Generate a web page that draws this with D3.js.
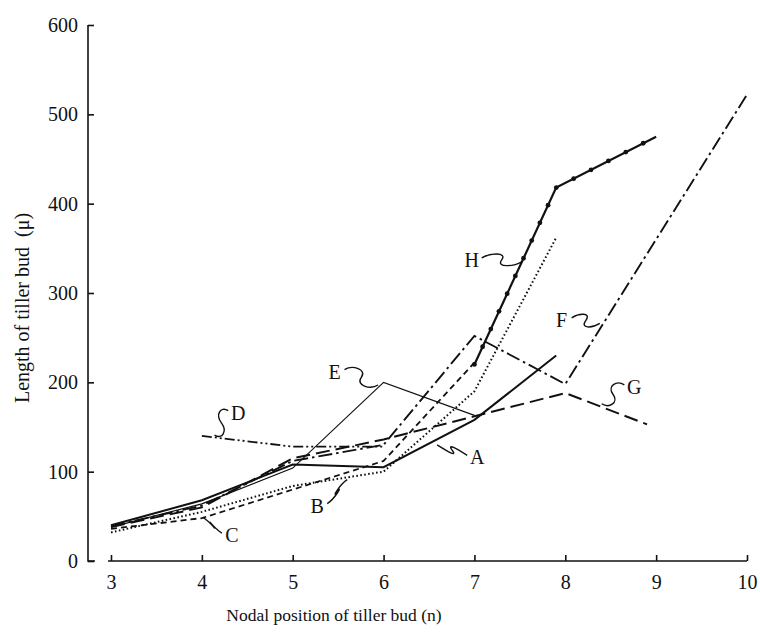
<!DOCTYPE html>
<html>
<head>
<meta charset="utf-8">
<script src="https://cdn.jsdelivr.net/npm/d3@7"></script>
<style>
  body { margin: 0; background: #fff; }
  svg text { font-family: "Liberation Serif", "DejaVu Serif", serif; fill: #111; }
</style>
</head>
<body>
<script>
// tick values
const xTicks = [3, 4, 5, 6, 7, 8, 9, 10];
const yTicks = [0, 100, 200, 300, 400, 500, 600];

// series: [nodal position, length]
const seriesA = [[3, 40], [4, 68], [5, 108], [6, 105], [7, 158], [7.9, 230]];
const seriesB = [[3, 32], [4, 55], [5, 84], [6, 100], [7, 190], [7.9, 362]];
const seriesC = [[3, 36], [4, 48], [5, 80], [6, 112], [7, 222]];
const seriesD = [[4, 140], [5, 128], [6, 128]];
const seriesE = [[3, 38], [4, 64], [5, 104], [6, 200], [7, 163]];
const seriesF = [[3, 39], [4, 62], [5, 112], [6, 130], [7, 252], [8, 198], [10, 522]];
const seriesG = [[3, 38], [4, 60], [5, 115], [6, 136], [7, 162], [8, 188], [8.9, 153]];
const seriesH = [[7, 220], [7.9, 418], [9, 475]];

// label text position and the point on the curve its squiggle touches
const labelNames = ["A", "B", "C", "D", "E", "F", "G", "H"];
const labelAt = [[7.03, 116], [5.27, 62], [4.33, 29], [4.4, 166], [5.46, 212], [7.96, 270], [8.76, 195], [6.97, 337]];
const labelTo = [[6.59, 130], [5.6, 91], [4.01, 49], [4.14, 141], [5.94, 197], [8.38, 266], [8.4, 176], [7.52, 335]];

let svg = d3.select("body")
            .append("svg")
            .attr("width", 760)
            .attr("height", 632);

let x = d3.scaleLinear().domain([3, 10]).range([111, 747]);
let y = d3.scaleLinear().domain([0, 600]).range([561, 25]);

//x axis, ticks pointing up
let xAxis = svg.append("g")
    .attr("transform", "translate(0," + y(0) + ")")
    .call(d3.axisBottom(x).tickValues(xTicks).tickFormat(d3.format("d"))
        .tickSizeInner(-6).tickSizeOuter(0).tickPadding(14));
xAxis.attr("font-family", null).attr("font-size", null);
xAxis.select(".domain").attr("d", "M" + (x(3) - 3) + ",0H" + x(10));
xAxis.selectAll("line, path").attr("stroke", "#111").attr("stroke-width", 1.6);
xAxis.selectAll("text").attr("font-size", 20).attr("fill", "#111");

//y axis sits left of the x axis, ticks pointing right
let yAxis = svg.append("g")
    .attr("transform", "translate(88,0)")
    .call(d3.axisLeft(y).tickValues(yTicks).tickFormat(d3.format("d"))
        .tickSizeInner(-6).tickSizeOuter(0).tickPadding(10));
yAxis.attr("font-family", null).attr("font-size", null);
yAxis.select(".domain").attr("d", "M0," + y(600) + "V" + y(0) + "H7");
yAxis.selectAll("line, path").attr("stroke", "#111").attr("stroke-width", 1.6);
yAxis.selectAll("text").attr("font-size", 20).attr("fill", "#111");

svg.append("text")
    .attr("x", 334).attr("y", 621)
    .attr("text-anchor", "middle")
    .attr("font-size", 17.5)
    .text("Nodal position of tiller bud (n)");

svg.append("text")
    .attr("transform", "translate(29," + 308 + ") rotate(-90)")
    .attr("text-anchor", "middle")
    .attr("font-size", 20)
    .attr("xml:space", "preserve")
    .style("white-space", "pre")
    .text("Length of tiller bud  (\u03bc)");

let line = d3.line()
    .x(d => x(d[0]))
    .y(d => y(d[1]));

let styles = [
    {d: seriesA, dash: null, w: 2},
    {d: seriesB, dash: "1.6,2.4", w: 2},
    {d: seriesC, dash: "6,4", w: 1.8},
    {d: seriesD, dash: "10,3,2,3,2,3", w: 1.8},
    {d: seriesE, dash: null, w: 1.2},
    {d: seriesF, dash: "14,4,2.5,4", w: 1.9},
    {d: seriesG, dash: "14,6", w: 2},
    {d: seriesH, dash: null, w: 2.2}
];

styles.forEach(s => {
    svg.append("path")
        .datum(s.d)
        .attr("d", line)
        .attr("fill", "none")
        .attr("stroke", "#111")
        .attr("stroke-width", s.w)
        .attr("stroke-dasharray", s.dash);
});

// H is drawn with beads along its length
let hPath = svg.append("path").datum(seriesH).attr("d", line).attr("fill", "none").attr("stroke", "none").node();
let hLen = hPath.getTotalLength();
for (let t = 0; t <= hLen; t += 19.5) {
    let p = hPath.getPointAtLength(t);
    svg.append("circle").attr("cx", p.x).attr("cy", p.y).attr("r", 2.4).attr("fill", "#111");
}

// labels with squiggle leaders
labelNames.forEach((name, i) => {
    let lx = x(labelAt[i][0]), ly = y(labelAt[i][1]);
    let tx = x(labelTo[i][0]), ty = y(labelTo[i][1]);
    let side = tx > lx ? 1 : -1;
    svg.append("text")
        .attr("x", lx).attr("y", ly + 7)
        .attr("text-anchor", "middle")
        .attr("font-size", 20)
        .text(name);
    let sx = lx + side * 10, sy = ly - 2;
    let mx = (sx + tx) / 2, my = (sy + ty) / 2;
    let p = d3.path();
    p.moveTo(sx, sy);
    p.bezierCurveTo(sx + side * 8, sy - 5, mx + side * 6, my - 8, mx, my);
    p.bezierCurveTo(mx - side * 6, my + 8, tx - side * 8, ty + 5, tx, ty);
    svg.append("path")
        .attr("d", p.toString())
        .attr("fill", "none")
        .attr("stroke", "#111")
        .attr("stroke-width", 1.4);
});
</script>
</body>
</html>
